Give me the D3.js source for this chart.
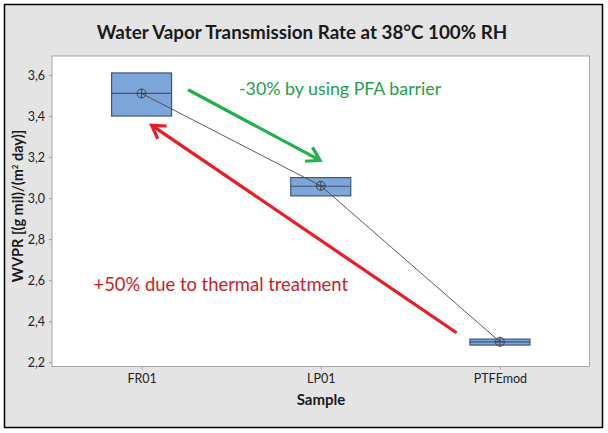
<!DOCTYPE html>
<html>
<head>
<meta charset="utf-8">
<script src="https://cdn.jsdelivr.net/npm/d3@7"></script>
<style>
  body { margin: 0; background: #fff; }
  text { font-family: Lato, "Open Sans", sans-serif; }
</style>
</head>
<body>
<div id="chart"></div>
<script>
// values
var samples = ["FR01", "LP01", "PTFEmod"];
var q1 = [3.40, 3.011, 2.284];
var medians = [3.51, 3.058, 2.30];
var q3 = [3.61, 3.10, 2.313];
var means = [3.51, 3.06, 2.30];
var yTicks = [2.2, 2.4, 2.6, 2.8, 3.0, 3.2, 3.4, 3.6];

// annotation arrows: [from index, from value, to index, to value]
var greenArrow = [0.26, 3.528, 0.996, 3.184];
var redArrow = [1.758, 2.344, 0.056, 3.355];

var W = 608, H = 433;
var plot = {left: 52, right: 589.5, top: 56, bottom: 366.5};

var svg = d3.select("#chart").append("svg")
    .attr("width", W)
    .attr("height", H);

// background + frame
svg.append("rect").attr("x", 0).attr("y", 0).attr("width", W).attr("height", H).attr("fill", "#fff");
svg.append("rect")
    .attr("x", 4.5).attr("y", 4.5).attr("width", 598).attr("height", 423)
    .attr("fill", "#e4e4e4").attr("stroke", "#000").attr("stroke-width", 1.5);
svg.append("rect")
    .attr("x", plot.left).attr("y", plot.top)
    .attr("width", plot.right - plot.left).attr("height", plot.bottom - plot.top)
    .attr("fill", "#fff").attr("stroke", "#a8a8a8").attr("stroke-width", 1);

var x = d3.scalePoint().domain(samples).range([plot.left, plot.right]).padding(0.5);
var xi = d3.scaleLinear().domain([0, samples.length - 1]).range([x(samples[0]), x(samples[samples.length - 1])]);
var y = d3.scaleLinear().domain([2.2, 3.6]).range([362.3, 75]);

// axes
var yAxis = svg.append("g")
    .attr("transform", "translate(" + plot.left + ",0)")
    .call(d3.axisLeft(y).tickValues(yTicks).tickSize(3).tickPadding(4)
        .tickFormat(function(d) { return d3.format(".1f")(d).replace(".", ","); }));
var xAxis = svg.append("g")
    .attr("transform", "translate(0," + plot.bottom + ")")
    .call(d3.axisBottom(x).tickSize(3).tickPadding(5));
[yAxis, xAxis].forEach(function(a) {
    a.select(".domain").remove();
    a.selectAll(".tick line").attr("stroke", "#a0a0a0");
    a.selectAll(".tick text").attr("fill", "#222").style("font-size", "12.5px")
        .style("font-family", "Lato, sans-serif");
});

// title and axis labels
svg.append("text")
    .attr("x", 302).attr("y", 38.5)
    .attr("text-anchor", "middle")
    .style("font-size", "18.8px").style("font-weight", "bold").attr("fill", "#1a1a1a")
    .text("Water Vapor Transmission Rate at 38°C 100% RH");

svg.append("text")
    .attr("x", 321).attr("y", 405)
    .attr("text-anchor", "middle")
    .style("font-size", "15px").style("font-weight", "bold").attr("fill", "#1a1a1a")
    .text("Sample");

var ylab = svg.append("text")
    .attr("transform", "translate(23,206) rotate(-90)")
    .attr("text-anchor", "middle")
    .style("font-size", "14.5px").style("font-weight", "bold").attr("fill", "#1a1a1a");
ylab.append("tspan").text("WVPR [(g mil)/(m");
ylab.append("tspan").attr("dy", -5).style("font-size", "8px").text("2");
ylab.append("tspan").attr("dy", 5).text(" day)]");

// boxes
var bw = 60;
var boxes = svg.append("g").selectAll("g").data(samples).enter().append("g");
boxes.append("rect")
    .attr("x", function(d) { return x(d) - bw / 2; })
    .attr("y", function(d, i) { return y(q3[i]); })
    .attr("width", bw)
    .attr("height", function(d, i) { return y(q1[i]) - y(q3[i]); })
    .attr("fill", "#7ca5d9").attr("stroke", "#3f5778").attr("stroke-width", 1.2);
boxes.append("line")
    .attr("x1", function(d) { return x(d) - bw / 2; })
    .attr("x2", function(d) { return x(d) + bw / 2; })
    .attr("y1", function(d, i) { return y(medians[i]); })
    .attr("y2", function(d, i) { return y(medians[i]); })
    .attr("stroke", "#3f5778").attr("stroke-width", 1.2);

// mean connect line
var meanLine = d3.line()
    .x(function(d, i) { return x(samples[i]); })
    .y(function(d) { return y(d); });
svg.append("path").datum(means)
    .attr("d", meanLine)
    .attr("fill", "none").attr("stroke", "#4a4a4a").attr("stroke-width", 0.9);

var sym = svg.append("g").selectAll("g").data(means).enter().append("g")
    .attr("transform", function(d, i) { return "translate(" + x(samples[i]) + "," + y(d) + ")"; });
sym.append("circle").attr("r", 4.5).attr("fill", "none").attr("stroke", "#444").attr("stroke-width", 1);
sym.append("path").attr("d", "M-4.5,0H4.5M0,-4.5V4.5").attr("stroke", "#444").attr("stroke-width", 1);

// annotation arrows
function arrow(a, color) {
    var x1 = xi(a[0]), y1 = y(a[1]), x2 = xi(a[2]), y2 = y(a[3]);
    var ang = Math.atan2(y2 - y1, x2 - x1), len = 15, spread = 0.55;
    var g = svg.append("g").attr("stroke", color).attr("stroke-width", 3.2)
        .attr("fill", "none").attr("stroke-linecap", "butt").attr("stroke-linejoin", "miter");
    g.append("line").attr("x1", x1).attr("y1", y1).attr("x2", x2 - Math.cos(ang) * 1.5).attr("y2", y2 - Math.sin(ang) * 1.5);
    g.append("path").attr("d",
        "M" + (x2 - len * Math.cos(ang - spread)) + "," + (y2 - len * Math.sin(ang - spread)) +
        "L" + x2 + "," + y2 +
        "L" + (x2 - len * Math.cos(ang + spread)) + "," + (y2 - len * Math.sin(ang + spread)));
}
arrow(greenArrow, "#22b04c");
arrow(redArrow, "#ec1c24");

svg.append("text")
    .attr("x", 239).attr("y", 94.5)
    .style("font-size", "17.8px").attr("fill", "#1f9e4a")
    .text("-30% by using PFA barrier");
svg.append("text")
    .attr("x", 93.5).attr("y", 290.5)
    .style("font-size", "18.4px").attr("fill", "#c9202a")
    .text("+50% due to thermal treatment");
</script>
</body>
</html>
